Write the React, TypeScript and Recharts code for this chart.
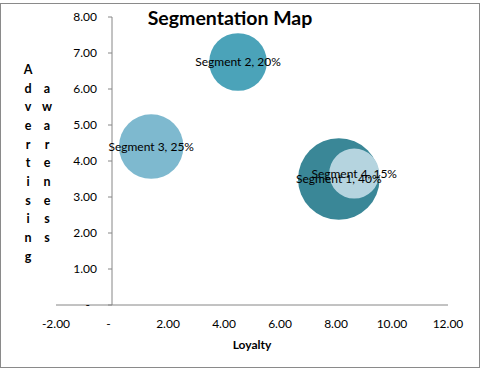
import React from 'react';
import { ScatterChart, Scatter, XAxis, YAxis, ZAxis, ReferenceLine, Cell, LabelList } from 'recharts';

const segments = ['Segment 1', 'Segment 2', 'Segment 3', 'Segment 4'];
const loyalty = [8.1, 4.5, 1.4, 8.65];
const awareness = [3.5, 6.75, 4.4, 3.65];
const share = [40, 20, 25, 15];
const colors = ['#3A8797', '#4BA3B9', '#7EB9CF', '#B5D4DF'];
const xTicks = [-2, 0, 2, 4, 6, 8, 10, 12];
const yTicks = [0, 1, 2, 3, 4, 5, 6, 7, 8];
const title = 'Segmentation Map';
const xTitle = 'Loyalty';
const yTitleLines = ['Advertising', 'awareness'];

const data = segments.map((s, i) => ({
  name: s,
  loyalty: loyalty[i],
  awareness: awareness[i],
  share: share[i],
  label: `${s}, ${share[i]}%`,
}));

const FONT = 'Lato, "Open Sans", sans-serif';
const AXIS = '#868686';

const fmt = (v: number) => (v === 0 ? '-\u2007' : v.toFixed(2));

const YTick = (props: any) => {
  const { x, y, payload } = props;
  const ax = x + 56;
  return (
    <g>
      <line x1={ax - 4} x2={ax} y1={y} y2={y} stroke={AXIS} />
      <text x={ax - 15} y={y} dy="0.355em" textAnchor="end" fontSize={12} fontFamily={FONT} fill="#000">
        {fmt(payload.value)}
      </text>
    </g>
  );
};

const BubbleLabel = (props: any) => {
  const { x, y, width, height, value } = props;
  const cx = x + width / 2;
  const cy = y + height / 2;
  return (
    <text x={cx} y={cy} dy="0.355em" textAnchor="middle" fontSize={12} fontFamily={FONT} fill="#000">
      {value}
    </text>
  );
};

export default function App() {
  return (
    <div style={{ position: 'absolute', left: 0, top: 0, width: 481, height: 369, background: '#fff' }}>
      <div
        style={{
          position: 'absolute',
          left: 0,
          top: 3,
          width: 480,
          height: 365,
          boxSizing: 'border-box',
          border: '1px solid #8a8a8a',
        }}
      />
      <ScatterChart width={481} height={369} margin={{ top: 17, right: 33, bottom: 0, left: 0 }}>
        <XAxis
          type="number"
          dataKey="loyalty"
          domain={[-2, 12]}
          ticks={xTicks}
          tickFormatter={fmt}
          axisLine={{ stroke: AXIS }}
          tickLine={false}
          tickSize={0}
          tickMargin={14}
          height={64}
          tick={{ fontSize: 12, fontFamily: FONT, fill: '#000' }}
          interval={0}
          label={{ value: xTitle, position: 'insideBottom', offset: 20, fontSize: 12, fontWeight: 'bold', fontFamily: FONT, fill: '#000' }}
        />
        <YAxis
          type="number"
          dataKey="awareness"
          domain={[0, 8]}
          ticks={yTicks}
          width={56}
          axisLine={false}
          tickLine={false}
          tickSize={0}
          tickMargin={0}
          interval={0}
          tick={<YTick />}
        />
        <ZAxis type="number" dataKey="share" domain={[0, 40]} range={[0, 5228]} />
        <ReferenceLine x={0} stroke={AXIS} />
        <Scatter data={data} shape="circle" isAnimationActive={false}>
          {data.map((d, i) => (
            <Cell key={d.name} fill={colors[i]} />
          ))}
          <LabelList dataKey="label" content={<BubbleLabel />} />
        </Scatter>
      </ScatterChart>
      <svg width={481} height={369} style={{ position: 'absolute', left: 0, top: 0, pointerEvents: 'none' }}>
        <text x={230} y={25} textAnchor="middle" fontSize={19.5} fontWeight="bold" fontFamily={FONT} fill="#000">
          {title}
        </text>
        {yTitleLines.map((w, col) => (
          <text key={w} x={28 + col * 19} y={74 + col * 18.67} textAnchor="middle" fontSize={12.5} fontWeight="bold" fontFamily={FONT} fill="#000">
            {w.split('').map((c, i) => (
              <tspan key={i} x={28 + col * 19} dy={i === 0 ? 0 : 18.67}>
                {c}
              </tspan>
            ))}
          </text>
        ))}
      </svg>
    </div>
  );
}
